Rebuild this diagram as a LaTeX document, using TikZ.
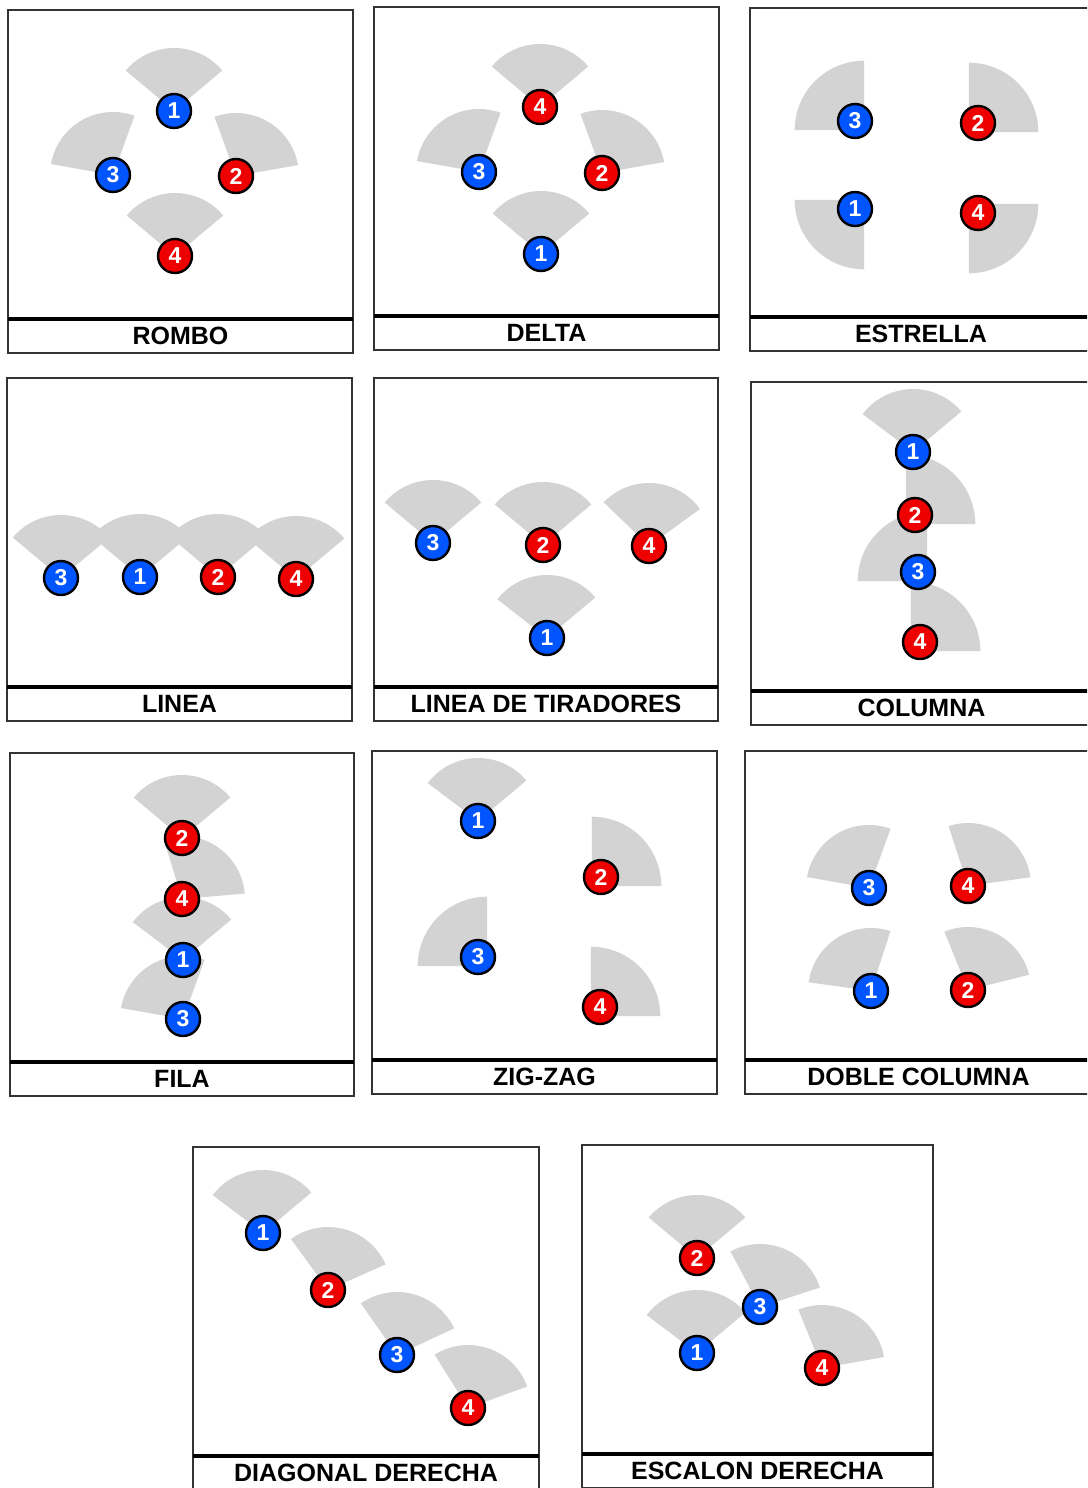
\documentclass[tikz,border=0pt]{standalone}
\usepackage{fontspec}
\newfontfamily\arial{Liberation Sans}
\definecolor{azul}{RGB}{0,85,255}
\definecolor{rojo}{RGB}{238,0,0}
\definecolor{cono}{HTML}{D3D3D3}
\begin{document}
\begin{tikzpicture}[x=0.5pt, y=0.5pt,
    marco/.style={draw=black!80, line width=.8pt},
    separador/.style={draw=black, line width=2pt},
    rotulo/.style={font=\arial\bfseries\fontsize{12.5}{15}\selectfont, inner sep=0pt},
    campo/.style={fill=cono},
    jugador/.style={circle, draw=black, line width=1.2pt, minimum size=17pt, inner sep=0pt,
      text=white, font=\arial\bfseries\fontsize{11.5}{11.5}\selectfont},
    j1/.style={jugador, fill=azul}, j3/.style={jugador, fill=azul},
    j2/.style={jugador, fill=rojo}, j4/.style={jugador, fill=rojo}]

  \useasboundingbox (0,0) rectangle (1087,-1488);
  \clip (0,0) rectangle (1087,-1488);
  \fill[white] (0,0) rectangle (1087,-1488);

  \foreach \p/\xa/\ya/\xb/\t in {
      rombo/8/10/353/ROMBO, delta/374/7/719/DELTA, estrella/750/8/1092/ESTRELLA,
      linea/7/378/352/LINEA, tiradores/374/378/718/LINEA DE TIRADORES,
      columna/751/382/1092/COLUMNA, fila/10/753/354/FILA, zigzag/372/751/717/ZIG-ZAG,
      doble/745/751/1092/DOBLE COLUMNA, diagonal/193/1147/539/DIAGONAL DERECHA,
      escalon/582/1145/933/ESCALON DERECHA}
  {
    \draw[marco] (\xa,-\ya) rectangle (\xb,-\ya-343);
    \draw[separador] (\xa,-\ya-309) -- (\xb,-\ya-309);
    \node[rotulo] (t-\p) at ({(\xa+\xb)/2},-\ya-326) {\t};
  }

  \def\jugadores{
      rombo/174/111/1/40/140/0, rombo/236/176/2/10/110/0, rombo/113/175/3/70/170/0, rombo/175/256/4/40/140/0,
      delta/541/254/1/40/140/0, delta/602/173/2/10/110/0, delta/479/172/3/70/170/0, delta/540/107/4/40/140/0,
      estrella/855/209/1/180/270/13, estrella/978/123/2/0/90/13, estrella/855/121/3/90/180/13, estrella/978/213/4/270/360/13,
      linea/140/577/1/40/140/0, linea/218/577/2/40/140/0, linea/61/578/3/40/140/0, linea/296/579/4/40/140/0,
      tiradores/547/638/1/40/142/0, tiradores/543/545/2/40/140/0, tiradores/433/543/3/40/140/0, tiradores/649/546/4/36/136/0,
      columna/913/452/1/40/143/0, columna/915/515/2/0/90/13, columna/918/572/3/90/180/13, columna/920/642/4/0/90/13,
      fila/183/960/1/40/143/0, fila/182/838/2/40/140/0, fila/183/1019/3/70/170/0, fila/182/899/4/5/107/0,
      zigzag/478/821/1/40/143/0, zigzag/601/877/2/0/90/13, zigzag/478/957/3/90/180/13, zigzag/600/1007/4/0/90/13,
      doble/871/991/1/72/172/0, doble/968/990/2/14/112/0, doble/869/888/3/70/170/0, doble/968/886/4/8/108/0,
      diagonal/263/1233/1/40/143/0, diagonal/328/1290/2/24/126/0, diagonal/397/1355/3/25/125/0, diagonal/468/1408/4/20/122/0,
      escalon/697/1353/1/40/143/0, escalon/697/1258/2/40/140/0, escalon/760/1307/3/18/118/0, escalon/822/1368/4/10/112/0}

  \foreach \p/\x/\y/\n/\a/\b/\d in \jugadores
    \fill[campo] (\x,-\y) ++({(\a+\b)/2+180}:\d) -- ++(\a:{63+\d/2})
      arc[start angle=\a, end angle=\b, radius={63+\d/2}] -- cycle;

  \foreach \p/\x/\y/\n/\a/\b/\d in \jugadores
    \node[j\n] (\p-\n) at (\x,-\y) {\n};
\end{tikzpicture}
\end{document}
